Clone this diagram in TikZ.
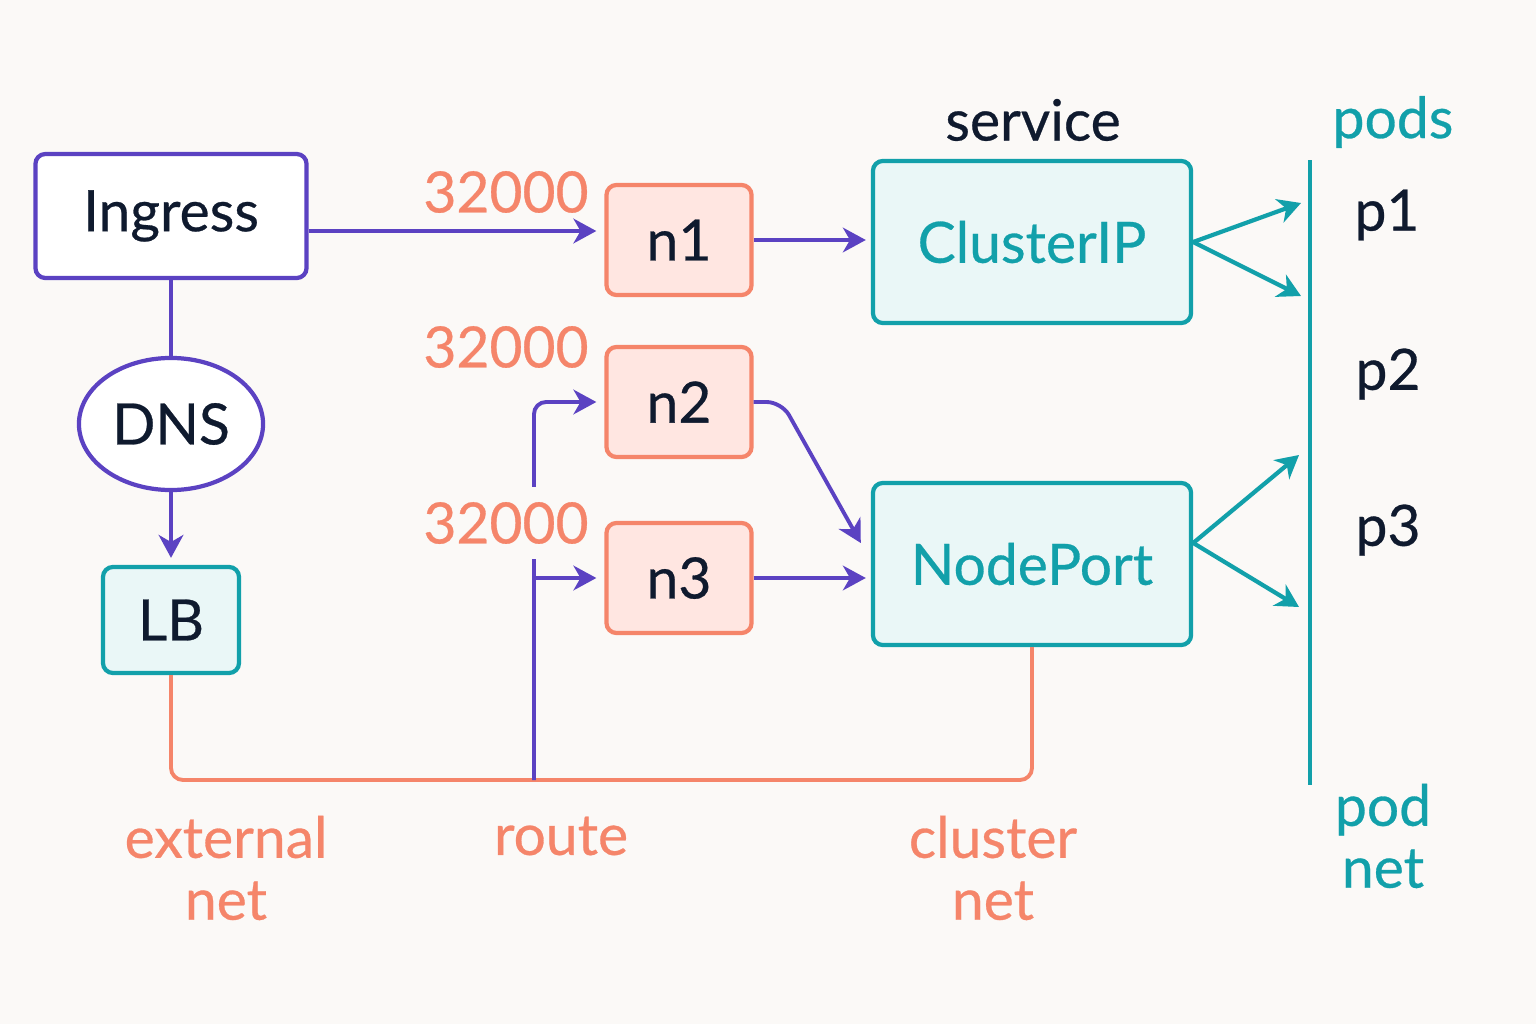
\documentclass[tikz,border=0pt]{standalone}
\usepackage{fontspec}
\setmainfont{Lato}[FakeBold=0.5]
\definecolor{Purple}{HTML}{5B42C2}
\definecolor{Salmon}{HTML}{F5856A}
\definecolor{LightSalmon}{HTML}{FFE6E1}
\definecolor{Teal}{HTML}{12A0AA}
\definecolor{LightTeal}{HTML}{EAF7F7}
\definecolor{Ink}{HTML}{0F1A2E}
\definecolor{Paper}{HTML}{FBF9F7}
\usetikzlibrary{arrows.meta,positioning,shapes.geometric}

\begin{document}
\begin{tikzpicture}
[x=0.01cm,y=-0.01cm,
   box/.style={rectangle,rounded corners=0.1cm,line width=1.2pt,text=Ink,
   font=\fontsize{16.2}{17}\selectfont},
   nbox/.style={box,draw=Salmon,fill=LightSalmon,minimum width=1.45cm,
   minimum height=1.1cm},
   svc/.style={box,draw=Teal,fill=LightTeal,text=Teal,minimum width=3.18cm,
   minimum height=1.62cm},
   lbl/.style={text=Ink,font=\fontsize{16.2}{17}\selectfont},
   num/.style={lbl,text=Salmon,fill=Paper,inner sep=1pt},
   netlbl/.style={lbl,text=Salmon,align=center,font=\fontsize{16.2}{17.6}\selectfont},
   podlbl/.style={netlbl,text=Teal},
   link/.style={Purple,line width=1.1pt},
   flow/.style={link,-{Stealth[length=6.5pt,width=7pt,inset=2pt]}},
   net/.style={Salmon,line width=1.1pt,rounded corners=0.12cm},
   podflow/.style={Teal,line width=1.2pt,-{Stealth[length=6.5pt,width=7pt,inset=2pt]}}]
\path[fill=Paper,use as bounding box] (0,0) rectangle (1536,1024);

\node[box,draw=Purple,fill=white,minimum width=2.71cm,minimum height=1.24cm] (ingress) at (171,216) {Ingress};
\node[ellipse,draw=Purple,fill=white,line width=1.2pt,text=Ink,inner sep=0pt,
minimum width=1.84cm,minimum height=1.32cm,font=\fontsize{16.2}{17}\selectfont] (dns) at (171,424) {DNS};
\node[box,draw=Teal,fill=LightTeal,minimum width=1.36cm,minimum height=1.06cm] (lb) at (171,620) {LB};

\node[nbox] (n1) at (679,240) {n1};
\node[nbox] (n2) at (679,402) {n2};
\node[nbox] (n3) at (679,578) {n3};

\node[svc] (clusterip) at (1032,242) {ClusterIP};
\node[svc] (nodeport) at (1032,564) {NodePort};
\node[lbl] (service) at (1033,120) {service};

\coordinate (podtop) at (1310,160);
\coordinate (podbot) at (1310,785);
\coordinate (pa) at (1301,203);
\coordinate (pb) at (1301,296);
\coordinate (pc) at (1299,455);
\coordinate (pd) at (1299,607);
\coordinate (bus) at (534,780);

\draw[Teal,line width=1.3pt] (podtop) -- (podbot);
\node[podlbl] (pods) at (1393,122) {pods};
\node[lbl] (p1) at (1387,215) {p1};
\node[lbl] (p2) at (1388,374) {p2};
\node[lbl] (p3) at (1388,530) {p3};

\draw[link] (ingress.south) -- (dns.north);
\draw[flow,shorten >=0.07cm] (dns.south) -- (lb.north);
\draw[flow,shorten >=0.08cm] ([yshift=-0.15cm]ingress.east) -- ([yshift=-0.15cm]ingress.east -| n1.west);
\draw[flow,shorten >=0.05cm] (n1.east) -- (clusterip.west |- n1.east);
\draw[net] (lb.south) |- (bus) -| (nodeport.south);
\draw[flow,rounded corners=0.12cm,shorten >=0.08cm] (bus) |- (n2.west);
\draw[flow,shorten >=0.08cm] (bus |- n3.west) -- (n3.west);
\draw[flow,rounded corners=0.15cm] (n2.east) -- ++(28,0) -- ([shift={(-10,-21)}]nodeport.west);
\draw[flow,shorten >=0.05cm] (n3.east) -- (nodeport.west |- n3.east);

\draw[podflow] (clusterip.east) -- (pa);
\draw[podflow] (clusterip.east) -- (pb);
\draw[podflow] ([yshift=0.21cm]nodeport.east) -- (pc);
\draw[podflow] ([yshift=0.21cm]nodeport.east) -- (pd);

\node[num] (port1) at (506,192) {32000};
\node[num] (port2) at (506,347) {32000};
\node[num,inner ysep=0.15cm] (port3) at (506,523) {32000};
\node[netlbl] (extnet) at (226,868) {external\\net};
\node[netlbl] (route) at (561,836) {route};
\node[netlbl] (clnet) at (993,868) {cluster\\net};
\node[podlbl] (podnet) at (1383,836) {pod\\net};
%%
\end{tikzpicture}
\end{document}
